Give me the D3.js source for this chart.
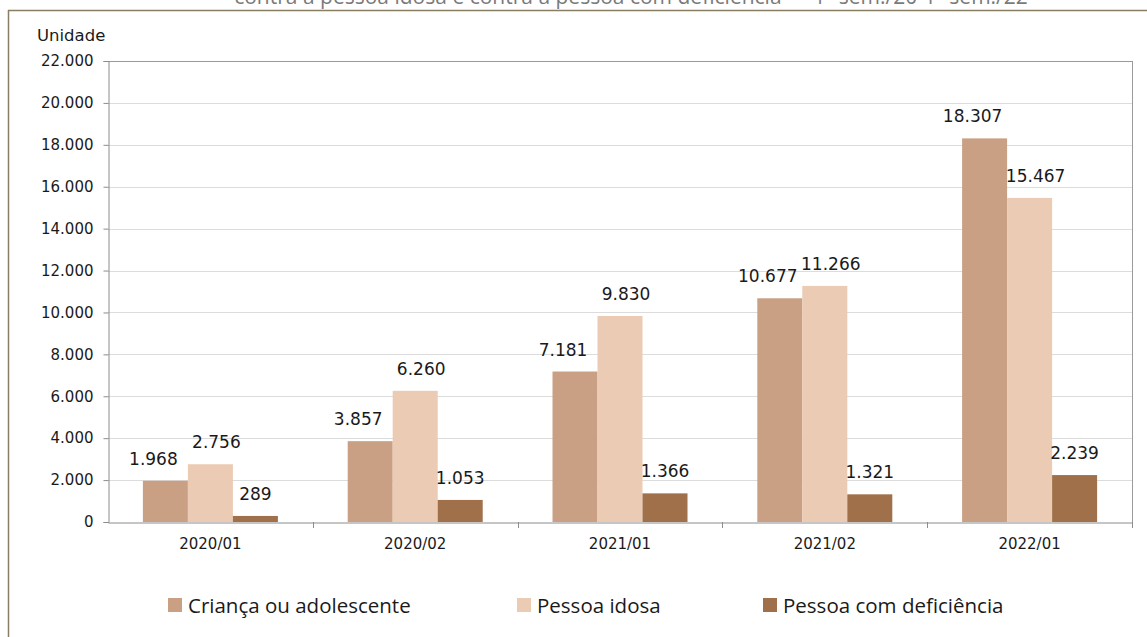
<!DOCTYPE html>
<html>
<head>
<meta charset="utf-8">
<script src="https://cdn.jsdelivr.net/npm/d3@7"></script>
<style>
  html, body { margin: 0; padding: 0; background: #fff; }
  svg { display: block; }
</style>
</head>
<body>
<svg id="chart" width="1147" height="637"></svg>
<script>
const categories = ["2020/01", "2020/02", "2021/01", "2021/02", "2022/01"];
const seriesNames = ["Criança ou adolescente", "Pessoa idosa", "Pessoa com deficiência"];
const criancaValues = [1968, 3857, 7181, 10677, 18307];
const idosaValues = [2756, 6260, 9830, 11266, 15467];
const deficienciaValues = [289, 1053, 1366, 1321, 2239];
const yTicks = [0, 2000, 4000, 6000, 8000, 10000, 12000, 14000, 16000, 18000, 20000, 22000];
const colors = ["#c9a083", "#ebcbb3", "#a0704a"];
const titleText = "contra a pessoa idosa e contra a pessoa com deficiência — 1º sem./20-1º sem./22";
const unitLabel = "Unidade";

const seriesValues = [criancaValues, idosaValues, deficienciaValues];
const fmt = v => d3.format(",")(v).replace(/,/g, ".");

const svg = d3.select("#chart");
const W = 1147, H = 637;
const plot = { left: 108, top: 61, right: 1132, bottom: 522 };

// outer frame
svg.append("line").attr("x1", 8).attr("x2", W).attr("y1", 10.5).attr("y2", 10.5)
  .attr("stroke", "#8a7e62").attr("stroke-width", 1.5);
svg.append("line").attr("x1", 8.5).attr("x2", 8.5).attr("y1", 10).attr("y2", H)
  .attr("stroke", "#8a7e62").attr("stroke-width", 1.5);

// cut-off title (partially hidden above the frame, as in the source)
svg.append("text").attr("x", 631).attr("y", 4)
  .attr("text-anchor", "middle")
  .attr("font-family", "'Open Sans', sans-serif").attr("font-size", 21)
  .attr("fill", "#7a7a7a").text(titleText);

const x0 = d3.scaleBand().domain(categories).range([plot.left, plot.right]).padding(0);
const groupW = 135;
const x1 = d3.scaleBand().domain(d3.range(seriesNames.length))
  .range([(x0.bandwidth() - groupW) / 2, (x0.bandwidth() + groupW) / 2]).padding(0);
const y = d3.scaleLinear().domain([0, 22000]).range([plot.bottom, plot.top]);

// gridlines
svg.append("g").selectAll("line").data(yTicks.filter(t => t > 0)).join("line")
  .attr("x1", plot.left).attr("x2", plot.right)
  .attr("y1", d => Math.round(y(d)) + 0.5).attr("y2", d => Math.round(y(d)) + 0.5)
  .attr("stroke", d => d === 22000 ? "#9a9a9a" : "#dcdcdc");

// right border
svg.append("line").attr("x1", plot.right + 0.5).attr("x2", plot.right + 0.5)
  .attr("y1", plot.top).attr("y2", plot.bottom).attr("stroke", "#9a9a9a");

// bars
const labelShift = [-12, 6, 0];
const groups = svg.append("g").selectAll("g").data(categories).join("g")
  .attr("transform", d => `translate(${x0(d)},0)`);
groups.selectAll("rect")
  .data((c, i) => seriesValues.map((vals, s) => ({ s, v: vals[i] })))
  .join("rect")
  .attr("x", d => x1(d.s))
  .attr("width", x1.bandwidth())
  .attr("y", d => y(d.v))
  .attr("height", d => plot.bottom - y(d.v))
  .attr("fill", d => colors[d.s]);
groups.selectAll("text")
  .data((c, i) => seriesValues.map((vals, s) => ({ s, v: vals[i] })))
  .join("text")
  .attr("x", d => x1(d.s) + x1.bandwidth() / 2 + labelShift[d.s])
  .attr("y", d => y(d.v) - 16)
  .attr("text-anchor", "middle")
  .attr("font-family", "'DejaVu Sans', sans-serif").attr("font-size", 17)
  .attr("fill", "#1a1a1a")
  .text(d => fmt(d.v));

// y axis
const yAxis = d3.axisLeft(y).tickValues(yTicks).tickFormat(fmt).tickSize(5).tickPadding(10);
const gy = svg.append("g").attr("transform", `translate(${plot.left + 0.5},0)`).call(yAxis);
gy.select(".domain").attr("stroke", "#8c8c8c");
gy.selectAll(".tick line").attr("stroke", "#8c8c8c");
gy.selectAll(".tick text").attr("font-family", "'DejaVu Sans', sans-serif")
  .attr("font-size", 15).attr("fill", "#1a1a1a");

// x axis
const xAxis = d3.axisBottom(x0).tickSize(0).tickPadding(16);
const gx = svg.append("g").attr("transform", `translate(0,${plot.bottom + 0.5})`).call(xAxis);
gx.select(".domain").attr("stroke", "#8c8c8c");
gx.selectAll(".tick text").attr("font-family", "'DejaVu Sans', sans-serif")
  .attr("font-size", 15).attr("fill", "#1a1a1a");
// category separators
svg.append("g").selectAll("line").data(categories.slice(1).concat(["end"])).join("line")
  .attr("x1", d => Math.round(d === "end" ? plot.right : x0(d)) + 0.5)
  .attr("x2", d => Math.round(d === "end" ? plot.right : x0(d)) + 0.5)
  .attr("y1", plot.bottom).attr("y2", plot.bottom + 6)
  .attr("stroke", "#8c8c8c");

// unit label
svg.append("text").attr("x", 37).attr("y", 41)
  .attr("font-family", "'DejaVu Sans', sans-serif").attr("font-size", 16.5)
  .attr("fill", "#1a1a1a").text(unitLabel);

// legend
const legendX = [168, 517, 763];
const lg = svg.append("g").selectAll("g").data(seriesNames).join("g")
  .attr("transform", (d, i) => `translate(${legendX[i]},598)`);
lg.append("rect").attr("width", 14).attr("height", 14).attr("fill", (d, i) => colors[i]);
lg.append("text").attr("x", 20).attr("y", 14.5)
  .attr("font-family", "'Open Sans', sans-serif").attr("font-size", 20.5)
  .attr("fill", "#1a1a1a").text(d => d);
</script>
</body>
</html>
